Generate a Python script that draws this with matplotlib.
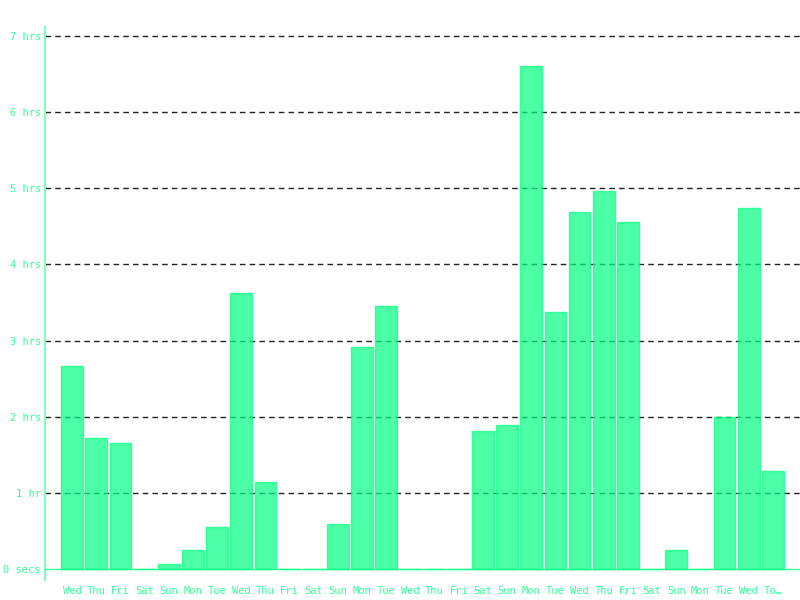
import matplotlib
matplotlib.use("Agg")
import matplotlib.pyplot as plt
import numpy as np

days = ["Wed", "Thu", "Fri", "Sat", "Sun", "Mon", "Tue",
        "Wed", "Thu", "Fri", "Sat", "Sun", "Mon", "Tue",
        "Wed", "Thu", "Fri", "Sat", "Sun", "Mon", "Tue",
        "Wed", "Thu", "Fri", "Sat", "Sun", "Mon", "Tue",
        "Wed", "To\u2026"]
hours = [2.67, 1.72, 1.65, 0, 0.07, 0.25, 0.55,
         3.62, 1.14, 0, 0, 0.59, 2.92, 3.45,
         0, 0, 0, 1.81, 1.89, 6.61, 3.38,
         4.69, 4.96, 4.56, 0, 0.25, 0, 2.0,
         4.74, 1.29]
ytick_vals = [0, 1, 2, 3, 4, 5, 6, 7]
ytick_labels = ["0 secs", "1 hr", "2 hrs", "3 hrs", "4 hrs", "5 hrs", "6 hrs", "7 hrs"]

green = "#00ff80"
plt.rcParams['font.family'] = ['DejaVu Sans Mono']

fig = plt.figure(figsize=(8, 6), dpi=100)
ax = fig.add_axes([0.05625, 0.0333, 0.94375, 0.9217])

x = np.arange(len(days))
for yv in ytick_vals[1:]:
    ax.axhline(yv, color="#222222", linestyle=(0, (4, 3)), linewidth=1.0, zorder=1)
ax.bar(x, hours, width=0.9, color=green, alpha=0.7, edgecolor=green, linewidth=1.0, zorder=2)
ax.axhline(0, color=green, alpha=0.8, linewidth=1.0, zorder=3)

ax.set_xlim(-1.12, 30.12)
ax.set_ylim(-0.1445, 7.118)
ax.set_xticks(x)
ax.set_xticklabels(days)
ax.set_yticks(ytick_vals)
ax.set_yticklabels(ytick_labels)
ax.tick_params(axis="both", length=0, labelsize=7.5, colors="#33ff99")
ax.tick_params(axis="x", pad=4.5)
ax.tick_params(axis="y", pad=3)

for s in ["top", "right", "bottom"]:
    ax.spines[s].set_visible(False)
ax.spines["left"].set_color("#80ffbf")
ax.spines["left"].set_linewidth(1.5)

fig.savefig("out.png", dpi=100)
